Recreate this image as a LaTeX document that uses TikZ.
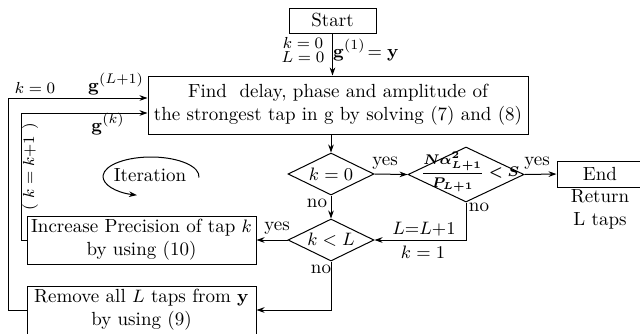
\documentclass[tikz,border=0pt]{standalone}
\usepackage{amsmath,bm}
\usetikzlibrary{arrows.meta,shapes.geometric}
\newcommand{\condexpr}{$\bm{\dfrac{N\alpha^2_{L+1}}{P_{L+1}}}\bm{<}\bm{S}$}
\begin{document}
\begin{tikzpicture}[x=0.5pt,y=-0.5pt,
  font=\fontsize{9.5pt}{11.5pt}\selectfont,
  line width=0.5pt,
  arr/.style={-{Stealth[length=4pt,width=2.8pt]}},
  box/.style={draw, rectangle, inner sep=0pt, align=center},
  dia/.style={draw, diamond, inner sep=0pt},
  lbl/.style={inner sep=0pt},
  small/.style={inner sep=0pt, font=\fontsize{8.5pt}{9.5pt}\selectfont}]
\useasboundingbox (0,0) rectangle (640,333);
% nodes
\node[box, minimum width=43.5pt, minimum height=12.5pt] (start) at (332.5,20.5) {Start};
\node[box, minimum width=190pt, minimum height=29pt] (find) at (338,105)
  {Find\ \ delay, phase and amplitude of\\the strongest tap in g by solving (7) and (8)};
\node[dia, minimum width=43pt, minimum height=21pt] (d0) at (331,174) {};
\node[lbl] at (d0) {$k=0$};
\node[dia, minimum width=58pt, minimum height=27.5pt] (d1) at (466,174.5) {};
\node[lbl, font=\fontsize{7.2pt}{8.5pt}\selectfont] (cond) at (470,172) {\condexpr};
\node[box, minimum width=50pt, minimum height=13pt] (end) at (607,174) {End\hspace*{7pt}};
\node[lbl, align=center] (ret) at (600,209) {Return\\L taps};
\node[dia, minimum width=43pt, minimum height=21pt] (d2) at (331,240) {};
\node[lbl] at (d2) {$k<L$};
\node[box, minimum width=114.5pt, minimum height=24pt] (inc) at (141.5,240)
  {Increase Precision of tap $k$\\by using (10)};
\node[box, minimum width=114.5pt, minimum height=24pt] (rem) at (141.5,310)
  {Remove all $L$ taps from $\mathbf{y}$\\by using (9)};
\node[lbl, align=center] (ite) at (150,175) {Iteration};
\coordinate (oc) at (8,98);
\coordinate (ic) at (21,113);
% connectors
\draw[arr] (start.south) -- (start.south |- find.north);
\draw[arr] (d0.north |- find.south) -- (d0.north);
\draw[arr] (d0.east) -- (d1.west);
\draw[arr] (d1.east) -- (end.west);
\draw[arr] (d1.south) -- (d1.south |- d2.east) -- (d2.east);
\draw[arr] (d0.south) -- (d2.north);
\draw[arr] (d2.west) -- (inc.east);
\draw[arr] (d2.south) -- (d2.south |- rem.east) -- (rem.east);
\draw[arr] (rem.west) -- (rem.west -| oc) -- (oc) -- (oc -| find.west);
\draw[arr] (inc.west) -- (inc.west -| ic) -- (ic) -- (ic -| find.west);
\draw[arr] (151,176.5) ++(3:48 and 19.5) arc[start angle=3, end angle=-253, x radius=48, y radius=19.5];
% labels
\node[small] at (303,43) {$k=0$};
\node[small] at (303,57) {$L=0$};
\node[lbl] at (366,50) {$\mathbf{g}^{(1)}\!= \mathbf{y}$};
\node[lbl] at (385,163) {yes};
\node[lbl] at (537,163) {yes};
\node[lbl] at (479,207) {no};
\node[lbl] at (317,203) {no};
\node[lbl] at (321,269) {no};
\node[lbl] at (277,228) {yes};
\node[lbl] at (424,229) {$L{=}L{+}1$};
\node[lbl] at (423,252) {$k=1$};
\node[small] at (35,88) {$k=0$};
\node[lbl] at (116,84) {$\mathbf{g}^{(L+1)}$};
\node[lbl] at (108,124) {$\mathbf{g}^{(k)}$};
\node[small, rotate=90] at (30,167) {$(\ k = k{+}1\ )$};
\end{tikzpicture}
\end{document}
